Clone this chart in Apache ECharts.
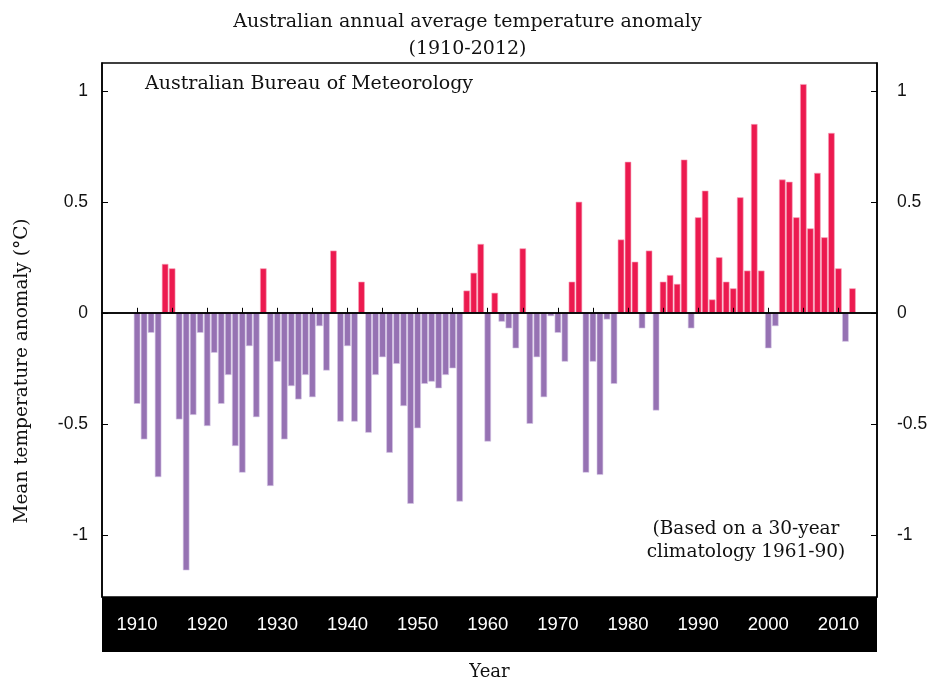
<!DOCTYPE html>
<html>
<head>
<meta charset="utf-8">
<title>Australian annual average temperature anomaly</title>
<script src="https://cdn.jsdelivr.net/npm/echarts@6/dist/echarts.min.js"></script>
<style>
  html, body { margin: 0; padding: 0; background: #fff; }
  #chart { width: 935px; height: 686px; }
</style>
</head>
<body>
<div id="chart"></div>
<script>
// years on the x axis
var years = [
  1910, 1911, 1912, 1913, 1914, 1915, 1916, 1917, 1918, 1919,
  1920, 1921, 1922, 1923, 1924, 1925, 1926, 1927, 1928, 1929,
  1930, 1931, 1932, 1933, 1934, 1935, 1936, 1937, 1938, 1939,
  1940, 1941, 1942, 1943, 1944, 1945, 1946, 1947, 1948, 1949,
  1950, 1951, 1952, 1953, 1954, 1955, 1956, 1957, 1958, 1959,
  1960, 1961, 1962, 1963, 1964, 1965, 1966, 1967, 1968, 1969,
  1970, 1971, 1972, 1973, 1974, 1975, 1976, 1977, 1978, 1979,
  1980, 1981, 1982, 1983, 1984, 1985, 1986, 1987, 1988, 1989,
  1990, 1991, 1992, 1993, 1994, 1995, 1996, 1997, 1998, 1999,
  2000, 2001, 2002, 2003, 2004, 2005, 2006, 2007, 2008, 2009,
  2010, 2011, 2012
]
// annual mean temperature anomaly (°C), same order as years
var anomalies = [
  -0.41, -0.57, -0.09, -0.74, 0.22, 0.20, -0.48, -1.16, -0.46, -0.09,
  -0.51, -0.18, -0.41, -0.28, -0.60, -0.72, -0.15, -0.47, 0.20, -0.78,
  -0.22, -0.57, -0.33, -0.39, -0.28, -0.38, -0.06, -0.26, 0.28, -0.49,
  -0.15, -0.49, 0.14, -0.54, -0.28, -0.20, -0.63, -0.23, -0.42, -0.86,
  -0.52, -0.32, -0.31, -0.34, -0.28, -0.25, -0.85, 0.10, 0.18, 0.31,
  -0.58, 0.09, -0.04, -0.07, -0.16, 0.29, -0.50, -0.20, -0.38, -0.015,
  -0.09, -0.22, 0.14, 0.50, -0.72, -0.22, -0.73, -0.03, -0.32, 0.33,
  0.68, 0.23, -0.07, 0.28, -0.44, 0.14, 0.17, 0.13, 0.69, -0.07,
  0.43, 0.55, 0.06, 0.25, 0.14, 0.11, 0.52, 0.19, 0.85, 0.19,
  -0.16, -0.06, 0.60, 0.59, 0.43, 1.03, 0.38, 0.63, 0.34, 0.81,
  0.20, -0.13, 0.11
]
// tick marks and labels
var xTickYears = [1910, 1915, 1920, 1925, 1930, 1935, 1940, 1945, 1950, 1955, 1960,
  1965, 1970, 1975, 1980, 1985, 1990, 1995, 2000, 2005, 2010]
var xLabelYears = [1910, 1920, 1930, 1940, 1950, 1960, 1970, 1980, 1990, 2000, 2010]
var yTicks = [-1, -0.5, 0, 0.5, 1]

var chart = echarts.init(document.getElementById('chart'))

var serif = "'DejaVu Serif', serif"
var sans = "'Liberation Sans', Arial, sans-serif"

var yAxisBase = function (pos, margin) {
  return {
    type: 'value',
    position: pos,
    min: -1.28,
    max: 1.125,
    z: 10,
    axisLine: { show: true, lineStyle: { color: '#000', width: 1.5 } },
    axisTick: { show: true, inside: true, length: 6, customValues: yTicks,
      lineStyle: { color: '#000', width: 1 } },
    axisLabel: { customValues: yTicks, color: '#111', fontSize: 17.5, fontFamily: sans, margin: margin },
    splitLine: { show: false }
  }
}

// warm years red, cool years purple
var barData = years.map(function (y, i) {
  var warm = anomalies[i] >= 0
  return {
    value: [y, anomalies[i]],
    itemStyle: {
      color: warm ? '#ec1a4f' : '#9672b3',
      borderColor: warm ? '#f7a3bb' : '#d5c6e6'
    }
  }
})

var option = {
  animation: false,
  backgroundColor: '#fff',
  title: {
    text: 'Australian annual average temperature anomaly\n(1910-2012)',
    left: 'center',
    top: 4,
    textStyle: { fontFamily: serif, fontSize: 19, fontWeight: 'normal', color: '#111', lineHeight: 27 }
  },
  grid: {
    left: 102, right: 58, top: 63, bottom: 89,
    show: true, borderColor: '#000', borderWidth: 1.5,
    outerBoundsMode: 'none'
  },
  graphic: [
    {
      // black band behind the year labels
      type: 'rect', z: 1,
      shape: { x: 102, y: 597, width: 775, height: 55 },
      style: { fill: '#000' }
    },
    {
      type: 'text', z: 20, x: 145, y: 84,
      style: { text: 'Australian Bureau of Meteorology', fontFamily: serif, fontSize: 19,
        fill: '#111', textVerticalAlign: 'middle' }
    },
    {
      type: 'text', z: 20, x: 746, y: 541,
      style: { text: '(Based on a 30-year\nclimatology 1961-90)', fontFamily: serif, fontSize: 18.5,
        lineHeight: 23, fill: '#111', textAlign: 'center', textVerticalAlign: 'middle' }
    },
    {
      type: 'text', z: 20, x: 22, y: 371, rotation: Math.PI / 2,
      style: { text: 'Mean temperature anomaly (\u00B0C)', fontFamily: serif, fontSize: 18.5,
        fill: '#111', textAlign: 'center', textVerticalAlign: 'middle' }
    }
  ],
  xAxis: {
    type: 'value',
    min: 1905,
    max: 2015.5,
    z: 10,
    name: 'Year',
    nameLocation: 'middle',
    nameGap: 66,
    nameTextStyle: { fontFamily: serif, fontSize: 18, color: '#111' },
    axisLine: { show: true, lineStyle: { color: '#000', width: 1.5 } },
    axisTick: { show: true, inside: true, length: 5, customValues: xTickYears,
      lineStyle: { color: '#000', width: 1 } },
    axisLabel: { customValues: xLabelYears, color: '#fff', fontSize: 18.5, fontFamily: sans, margin: 18,
      formatter: function (v) { return String(v) } },
    splitLine: { show: false }
  },
  yAxis: [yAxisBase('left', 14), yAxisBase('right', 20)],
  series: [
    {
      type: 'bar',
      barWidth: 6.5,
      data: barData,
      itemStyle: { borderWidth: 0.6 },
      markLine: {
        silent: true,
        symbol: 'none',
        label: { show: false },
        lineStyle: { color: '#000', width: 1.5, type: 'solid' },
        data: [{ yAxis: 0 }]
      }
    }
  ]
}

chart.setOption(option)
</script>
</body>
</html>
